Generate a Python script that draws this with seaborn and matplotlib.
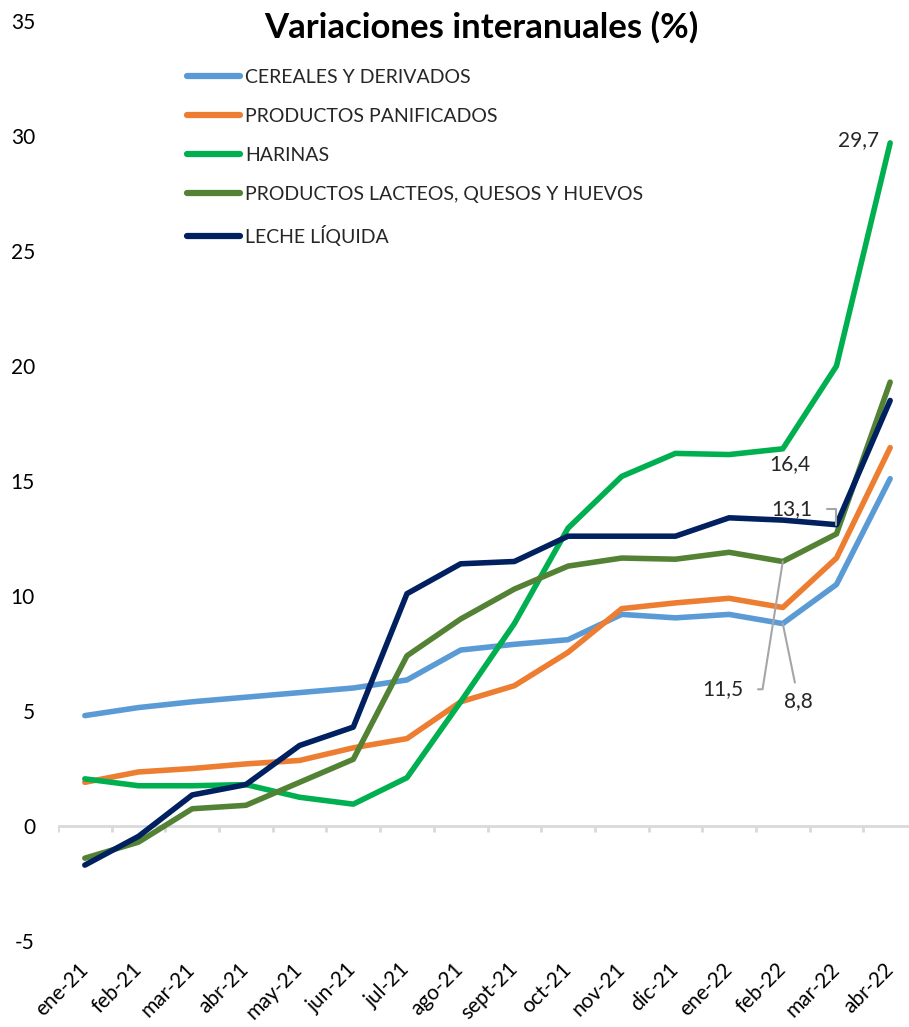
import matplotlib
matplotlib.use("Agg")
import matplotlib.pyplot as plt
import seaborn as sns
import pandas as pd

months = ["ene-21", "feb-21", "mar-21", "abr-21", "may-21", "jun-21", "jul-21", "ago-21",
          "sept-21", "oct-21", "nov-21", "dic-21", "ene-22", "feb-22", "mar-22", "abr-22"]

cereales = [4.8, 5.15, 5.4, 5.6, 5.8, 6.0, 6.35, 7.65, 7.9, 8.1, 9.2, 9.05, 9.2, 8.8, 10.5, 15.1]
panificados = [1.9, 2.35, 2.5, 2.7, 2.85, 3.4, 3.8, 5.4, 6.1, 7.55, 9.45, 9.7, 9.9, 9.5, 11.65, 16.45]
harinas = [2.05, 1.75, 1.75, 1.8, 1.25, 0.95, 2.1, 5.4, 8.8, 12.95, 15.2, 16.2, 16.15, 16.4, 20.0, 29.7]
lacteos = [-1.4, -0.7, 0.75, 0.9, 1.9, 2.9, 7.4, 9.0, 10.3, 11.3, 11.65, 11.6, 11.9, 11.5, 12.7, 19.3]
leche = [-1.7, -0.45, 1.35, 1.8, 3.5, 4.3, 10.1, 11.4, 11.5, 12.6, 12.6, 12.6, 13.4, 13.3, 13.1, 18.5]

series_names = ["CEREALES Y DERIVADOS", "PRODUCTOS PANIFICADOS", "HARINAS",
                "PRODUCTOS LACTEOS, QUESOS Y HUEVOS", "LECHE LÍQUIDA"]
series_values = [cereales, panificados, harinas, lacteos, leche]
colors = ["#5B9BD5", "#ED7D31", "#00B050", "#548235", "#002060"]

title = "Variaciones interanuales (%)"
yticks = [-5, 0, 5, 10, 15, 20, 25, 30, 35]

rows = []
for name, vals in zip(series_names, series_values):
    for i, v in enumerate(vals):
        rows.append({"idx": i, "serie": name, "valor": v})
df = pd.DataFrame(rows)

sns.set_theme(style="white")
plt.rcParams["font.family"] = ["Lato", "DejaVu Sans"]

W, H = 909, 1027
fig = plt.figure(figsize=(W / 100, H / 100), dpi=100)
ax = fig.add_axes([58 / W, 1 - 941 / H, (917 - 58) / W, 920 / H])

sns.lineplot(data=df, x="idx", y="valor", hue="serie", hue_order=series_names,
             palette=colors, linewidth=4, ax=ax, sort=False,
             solid_capstyle="round", solid_joinstyle="round")

ax.set_xlim(-0.5, len(months) - 0.5)
ax.set_ylim(min(yticks), max(yticks))
for s in ax.spines.values():
    s.set_visible(False)
ax.set_xlabel("")
ax.set_ylabel("")

# zero axis line with boundary tick marks
ax.axhline(0, color="#D9D9D9", lw=2, zorder=0)
bounds = [i - 0.5 for i in range(len(months) + 1)]
ax.vlines(bounds, -0.27, 0, color="#D9D9D9", lw=2, zorder=0)

ax.set_yticks(yticks)
ax.set_yticklabels([str(t) for t in yticks], fontsize=15, color="black")
ax.tick_params(axis="y", length=0, pad=23 * 0.72)

ax.set_xticks(range(len(months)))
ax.set_xticklabels(months, fontsize=15, rotation=45, ha="right", va="center",
                   rotation_mode="anchor", color="black")
ax.tick_params(axis="x", length=0, pad=18)

fig.text(481 / W, 1 - 27 / H, title, ha="center", va="center",
         fontsize=25, fontweight="bold", color="black")

handles, labels = ax.get_legend_handles_labels()
leg = ax.legend(handles, labels, loc="upper left",
                bbox_to_anchor=(187 / W, 1 - 69 / H), bbox_transform=fig.transFigure,
                frameon=False, fontsize=14, handlelength=2.75, handletextpad=0.25,
                labelspacing=1.13, borderpad=0, borderaxespad=0)
for line in leg.get_lines():
    line.set_linewidth(4.5)
    line.set_solid_capstyle("round")

def fmt(v):
    return f"{v:.1f}".replace(".", ",")

lead = dict(arrowstyle="-", color="#A6A6A6", lw=1.5, shrinkA=1, shrinkB=0)

# harinas feb-22
ax.annotate(fmt(harinas[13]), xy=(13, harinas[13]), xytext=(5, -11),
            textcoords="offset points", ha="center", va="center", fontsize=15,
            annotation_clip=False)
# leche mar-22
ax.annotate(fmt(leche[14]), xy=(14, leche[14]), xytext=(-32, 11),
            textcoords="offset points", ha="center", va="center", fontsize=15,
            arrowprops=dict(lead, connectionstyle="angle,angleA=0,angleB=90,rad=0", shrinkA=8))
# lacteos feb-22
ax.annotate(fmt(lacteos[13]), xy=(13, lacteos[13]), xytext=(-43, -92),
            textcoords="offset points", ha="center", va="center", fontsize=15,
            arrowprops=dict(lead, connectionstyle="angle,angleA=0,angleB=81,rad=0", shrinkA=8))
# cereales feb-22
ax.annotate(fmt(cereales[13]), xy=(13, cereales[13]), xytext=(11.5, -56),
            textcoords="offset points", ha="center", va="center", fontsize=15,
            arrowprops=dict(lead, connectionstyle="arc3", shrinkA=4))
# harinas abr-22 (kept inside the figure, left of the line end)
ax.annotate(fmt(harinas[15]), xy=(15, harinas[15]), xytext=(-8, 2),
            textcoords="offset points", ha="right", va="center", fontsize=15,
            annotation_clip=False)

fig.savefig("out.png", dpi=100)
